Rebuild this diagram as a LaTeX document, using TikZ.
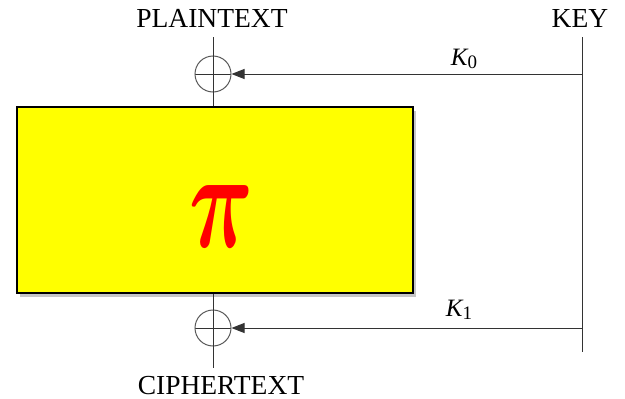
\documentclass[tikz,border=0pt]{standalone}
\usepackage{graphicx}
\usepackage{fontspec}
\setmainfont{Liberation Serif}
\usetikzlibrary{arrows.meta,shadows}
\definecolor{boxyellow}{RGB}{255,255,0}
\begin{document}
\begin{tikzpicture}[x=1pt,y=-1pt,
  wire/.style={draw=black!80, line width=1pt},
  xorc/.style={circle, draw=black!65, line width=1pt, minimum size=36pt, inner sep=0pt,
    path picture={\draw[black!80, line width=1pt] (path picture bounding box.north) -- (path picture bounding box.south)
      (path picture bounding box.west) -- (path picture bounding box.east);}},
  lbl/.style={font=\fontsize{27.5}{30}\selectfont, inner sep=0pt},
  klbl/.style={font=\fontsize{25}{28}\selectfont\itshape, inner sep=0pt},
  arr/.style={wire, -{Triangle[length=13pt,width=10pt]}}
]
\useasboundingbox (0,0) rectangle (625,399);
\node[lbl] (pt) at (212,18) {PLAINTEXT};
\node[lbl] (key) at (580,18) {KEY};
\node[lbl, anchor=base] (ct) at (221,394) {CIPHERTEXT};
\node[draw=black, line width=1.8pt, fill=boxyellow, minimum width=396pt, minimum height=186pt,
  drop shadow={opacity=0.45, shadow xshift=3pt, shadow yshift=-4pt}] (box) at (215,200) {};
\node[text=red, inner sep=0pt] (pi) at (222,216) {\resizebox{64pt}{62pt}{\boldmath$\pi$}};
\node[xorc] (x0) at (213,74) {};
\node[xorc] (x1) at (213,328) {};
\coordinate (ptin) at (213,37);
\coordinate (ctout) at (213,368);
\coordinate (ktop) at (582,37);
\coordinate (kbot) at (582,352);
\coordinate (k0) at (582,74);
\coordinate (k1) at (582,328);
\draw[wire] (ptin) -- (box.north -| ptin);
\draw[wire] (box.south -| ctout) -- (ctout);
\draw[wire] (ktop) -- (kbot);
\draw[arr] (k0) -- (x0);
\draw[arr] (k1) -- (x1);
\node[klbl] (k0l) at (464,59) {K\raisebox{-0.3ex}{\fontsize{19}{20}\selectfont\upshape 0}};
\node[klbl] (k1l) at (459,310) {K\raisebox{-0.3ex}{\fontsize{19}{20}\selectfont\upshape 1}};
\end{tikzpicture}
\end{document}
